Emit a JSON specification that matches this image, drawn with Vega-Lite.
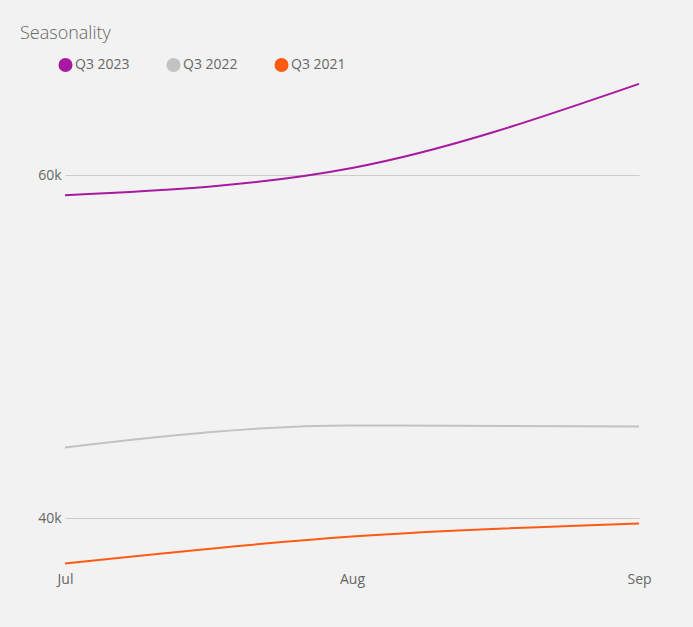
{
  "$schema": "https://vega.github.io/schema/vega-lite/v6.json",
  "width": 574,
  "height": 510,
  "autosize": "none",
  "padding": {"left": 65, "top": 60, "right": 54, "bottom": 57},
  "background": "#f2f2f2",
  "title": {
    "text": "Seasonality",
    "anchor": "start",
    "frame": "group",
    "dx": -45,
    "offset": 14,
    "font": "Open Sans",
    "fontSize": 18,
    "fontWeight": 300,
    "color": "#666666"
  },
  "config": {
    "view": {"stroke": null},
    "font": "Open Sans"
  },
  "data": {
    "values": [
      {"month": "Jul", "series": "Q3 2023", "value": 58830},
      {"month": "Aug", "series": "Q3 2023", "value": 60410},
      {"month": "Sep", "series": "Q3 2023", "value": 65310},
      {"month": "Jul", "series": "Q3 2022", "value": 44140},
      {"month": "Aug", "series": "Q3 2022", "value": 45420},
      {"month": "Sep", "series": "Q3 2022", "value": 45360},
      {"month": "Jul", "series": "Q3 2021", "value": 37380},
      {"month": "Aug", "series": "Q3 2021", "value": 38950},
      {"month": "Sep", "series": "Q3 2021", "value": 39710}
    ]
  },
  "mark": {"type": "line", "interpolate": "monotone", "strokeWidth": 2},
  "encoding": {
    "x": {
      "field": "month",
      "type": "ordinal",
      "sort": ["Jul", "Aug", "Sep"],
      "scale": {"type": "point", "padding": 0},
      "axis": {
        "title": null,
        "domain": false,
        "ticks": false,
        "labelAngle": 0,
        "labelPadding": 2,
        "labelFontSize": 14,
        "labelColor": "#666666",
        "labelFont": "Open Sans"
      }
    },
    "y": {
      "field": "value",
      "type": "quantitative",
      "scale": {"domain": [37000, 66700], "nice": false, "zero": false},
      "axis": {
        "title": null,
        "values": [40000, 60000],
        "format": "~s",
        "domain": false,
        "ticks": false,
        "labelPadding": 4,
        "labelFontSize": 14,
        "labelColor": "#666666",
        "labelFont": "Open Sans",
        "gridColor": "#cccccc",
        "gridWidth": 1
      }
    },
    "color": {
      "field": "series",
      "type": "nominal",
      "sort": ["Q3 2023", "Q3 2022", "Q3 2021"],
      "scale": {
        "domain": ["Q3 2023", "Q3 2022", "Q3 2021"],
        "range": ["#a8199f", "#c2c2c2", "#ff5a14"]
      },
      "legend": {
        "title": null,
        "orient": "none",
        "direction": "horizontal",
        "legendX": -7,
        "legendY": -3,
        "symbolType": "circle",
        "symbolSize": 50,
        "symbolStrokeWidth": 7,
        "labelFontSize": 14,
        "labelColor": "#666666",
        "labelFont": "Open Sans",
        "labelOffset": 2,
        "columnPadding": 25
      }
    }
  }
}
